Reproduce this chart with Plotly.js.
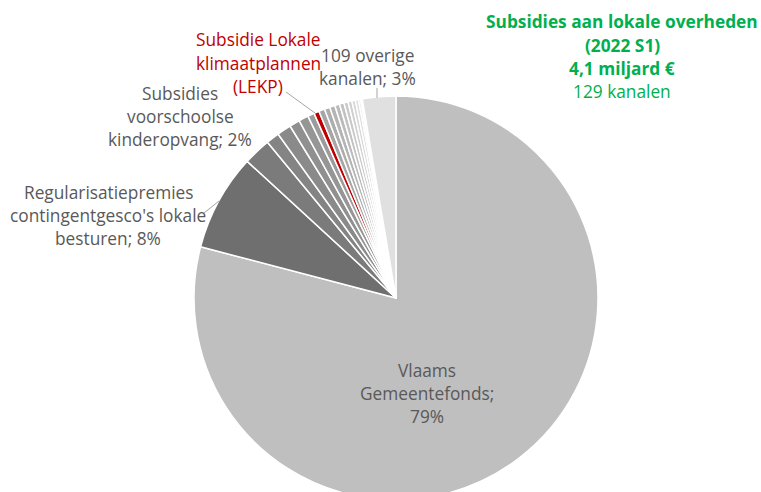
<!DOCTYPE html>
<html>
<head>
<meta charset="utf-8">
<script src="https://cdn.plot.ly/plotly-3.0.1.min.js"></script>
<style>
html,body{margin:0;padding:0;overflow:hidden;background:#fff;width:761px;height:492px;}
#chart{width:761px;height:510px;}
</style>
</head>
<body>
<div id="chart"></div>
<script>
// Channel labels (clockwise from 12 o'clock)
const labels = [
  "Vlaams Gemeentefonds",
  "Regularisatiepremies contingentgesco's lokale besturen",
  "Subsidies voorschoolse kinderopvang",
  "Kanaal 4","Kanaal 5","Kanaal 6","Kanaal 7","Kanaal 8",
  "Subsidie Lokale klimaatplannen (LEKP)",
  "Kanaal 10","Kanaal 11","Kanaal 12","Kanaal 13","Kanaal 14","Kanaal 15",
  "Kanaal 16","Kanaal 17","Kanaal 18","Kanaal 19","Kanaal 20",
  "109 overige kanalen"
];
// Share in %
const values = [
  79.1, 7.75, 2.2,
  1.05, 1.14, 0.83, 0.78, 0.53,
  0.42,
  0.47, 0.44, 0.42, 0.39, 0.36, 0.33, 0.31, 0.28, 0.25, 0.17, 0.14,
  2.67
];
const colors = [
  "#bfbfbf", "#6f6f6f", "#7b7b7b",
  "#848484", "#8a8a8a", "#909090", "#969696", "#9c9c9c",
  "#c00000",
  "#a6a6a6", "#adadad", "#b4b4b4", "#bbbbbb", "#c2c2c2", "#c9c9c9",
  "#d0d0d0", "#d7d7d7", "#dedede", "#e6e6e6", "#eeeeee",
  "#e0e0e0"
];
// Label text lines
const gray = "#595959", red = "#c00000", green = "#00b050";
const labelBlocks = [
  {lines:["Vlaams","Gemeentefonds;","79%"], x:427, y:370, color:gray, bold:false},
  {lines:["Regularisatiepremies","contingentgesco's lokale","besturen; 8%"], x:108, y:192, color:gray, bold:false},
  {lines:["Subsidies","voorschoolse","kinderopvang; 2%"], x:180, y:93, color:gray, bold:false},
  {lines:["Subsidie Lokale","klimaatplannen","(LEKP)"], x:258, y:40, color:red, bold:false},
  {lines:["109 overige","kanalen; 3%"], x:367, y:55, color:gray, bold:false},
  {lines:["Subsidies aan lokale overheden","(2022 S1)","4,1 miljard €"], x:622, y:22, color:green, bold:true},
  {lines:["129 kanalen"], x:622, y:91, color:green, bold:false}
];

const W = 761, H = 510;
const cx = 396, cy = 298, R = 202;
const lineGap = 23.2;

const annotations = [];
labelBlocks.forEach(b => {
  b.lines.forEach((t, i) => {
    annotations.push({
      xref:"paper", yref:"paper",
      x: b.x / W, y: 1 - (b.y + i*lineGap) / H,
      xanchor:"center", yanchor:"middle",
      text: b.bold ? "<b>"+t+"</b>" : t,
      showarrow:false,
      font:{family:"Open Sans", size:17.3, color:b.color}
    });
  });
});

function seg(x0,y0,x1,y1){
  return {type:"line", xref:"paper", yref:"paper",
    x0:x0/W, y0:1-y0/H, x1:x1/W, y1:1-y1/H,
    line:{color:"#a6a6a6", width:1}};
}
const shapes = [
  seg(286, 92, 315, 113),
  seg(377, 88, 377, 98),
  seg(204, 213, 219, 201)
];

const trace = {
  type:"pie",
  labels: labels,
  values: values,
  sort:false,
  direction:"clockwise",
  rotation:0,
  textinfo:"none",
  hoverinfo:"label+percent",
  marker:{colors: colors, line:{color:"#ffffff", width:1.5}},
  domain:{x:[(cx-R)/W, (cx+R)/W], y:[1-(cy+R)/H, 1-(cy-R)/H]},
  showlegend:false
};

Plotly.newPlot("chart", [trace], {
  width: W, height: H,
  margin:{l:0,r:0,t:0,b:0},
  paper_bgcolor:"#ffffff",
  showlegend:false,
  annotations: annotations,
  shapes: shapes
}, {staticPlot:true});
</script>
</body>
</html>
